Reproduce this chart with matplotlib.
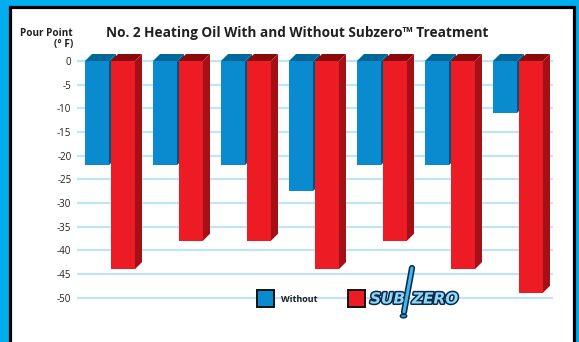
import matplotlib
matplotlib.use("Agg")
import matplotlib.pyplot as plt
from matplotlib.patches import Rectangle, Polygon, Circle
import matplotlib.patheffects as pe
import numpy as np

# ---- data ----
samples = ["1", "2", "3", "4", "5", "6", "7"]
without = [-22, -22, -22, -27.5, -22, -22, -11]
with_subzero = [-44, -38, -38, -44, -38, -44, -49]
ytick_values = [0, -5, -10, -15, -20, -25, -30, -35, -40, -45, -50]
ytick_labels = ["0", "-5", "-10", "-15", "-20", "-25", "-30", "-35", "-40", "-45", "-50"]
title = "No. 2 Heating Oil With and Without Subzero\u2122 Treatment"
ylabel = "Pour Point\n(\u00b0 F)"
legend_labels = ["Without", "SUBZERO"]

W, H = 579, 342
FONT = "Open Sans"
TEXT = "#231f20"
BLUE_F, BLUE_T, BLUE_S = "#0a8bd0", "#006899", "#00557f"
RED_F, RED_T, RED_S = "#ed1c24", "#8a0a0c", "#a50f16"
GRID = "#bfe4f6"

fig = plt.figure(figsize=(W / 100, H / 100), dpi=100, facecolor="#00aeef")

def fx(px):
    return px / W

def fy(py):
    return 1 - py / H

# white panel with black frame
fig.patches.append(Rectangle((fx(9.5), fy(400)), fx(564), (400 - 6.5) / H,
                             transform=fig.transFigure, facecolor="white",
                             edgecolor="black", linewidth=2.3, zorder=-5))

# axes
ax_left, ax_right, ax_top, ax_bot = 77, 553, 40, 320
ax = fig.add_axes([fx(ax_left), fy(ax_bot), (ax_right - ax_left) / W, (ax_bot - ax_top) / H])
ax.set_zorder(1)
ax.set_facecolor("none")
ppu_y = (297.5 - 61) / 50.0
ax.set_ylim(-(ax_bot - 61) / ppu_y, (61 - ax_top) / ppu_y)
pitch = 68.0
ax.set_xlim((ax_left - 110) / pitch, (ax_right - 110) / pitch)
for s in ax.spines.values():
    s.set_visible(False)
ax.set_xticks([])
ax.set_yticks(ytick_values)
ax.set_yticklabels(ytick_labels, fontfamily=FONT, fontsize=7, color=TEXT)
ax.tick_params(axis="y", length=0, pad=4)
ax.yaxis.grid(True, color=GRID, linewidth=1.6)
ax.set_axisbelow(True)

x = np.arange(len(samples))
bw = 24 / pitch
off = 13 / pitch
dx = 7 / pitch
dy = 7 / ppu_y

def bar3d(xc, val, cf, ct, cs, z):
    ax.bar([xc], [val], width=bw, color=cf, zorder=z, linewidth=0)
    l, r = xc - bw / 2, xc + bw / 2
    ax.add_patch(Polygon([(l, 0), (r, 0), (r + dx, dy), (l + dx, dy)],
                         closed=True, facecolor=ct, edgecolor="none", zorder=z))
    ax.add_patch(Polygon([(r, 0), (r + dx, dy), (r + dx, val + dy), (r, val)],
                         closed=True, facecolor=cs, edgecolor="none", zorder=z))

for i in range(len(samples)):
    bar3d(x[i] - off, without[i], BLUE_F, BLUE_T, BLUE_S, 3 + 2 * i)
    bar3d(x[i] + off, with_subzero[i], RED_F, RED_T, RED_S, 4 + 2 * i)

# title & y label
fig.text(fx(297), fy(33), title, ha="center", va="center", fontfamily=FONT,
         fontweight="bold", fontsize=9.8, color=TEXT)
fig.text(fx(73), fy(38.5), ylabel, ha="right", va="center", fontfamily=FONT,
         fontweight="bold", fontsize=7.2, color=TEXT, linespacing=1.0)

# legend
fig.patches.append(Rectangle((fx(257), fy(307)), fx(17), 17 / H, transform=fig.transFigure,
                             facecolor=BLUE_F, edgecolor="#111111", linewidth=1.4, zorder=5))
fig.text(fx(281), fy(299), legend_labels[0], ha="left", va="center", fontfamily=FONT,
         fontweight="bold", fontsize=6.5, color=TEXT)
fig.patches.append(Rectangle((fx(348), fy(307)), fx(17), 17 / H, transform=fig.transFigure,
                             facecolor=RED_F, edgecolor="#111111", linewidth=1.4, zorder=5))
logo_fx = [pe.withStroke(linewidth=2.2, foreground="#0b2a4a")]
fig.text(fx(370), fy(299), legend_labels[1][:3], ha="left", va="center", fontfamily="DejaVu Sans",
         fontweight="bold", fontstyle="italic", fontsize=11, color="#8fd8f8",
         path_effects=logo_fx, zorder=6)
fig.text(fx(412), fy(299), legend_labels[1][3:], ha="left", va="center", fontfamily="DejaVu Sans",
         fontweight="bold", fontstyle="italic", fontsize=11, color="#8fd8f8",
         path_effects=logo_fx, zorder=6)
# thermometer glyph in the logo
fig.lines.append(plt.Line2D([fx(412), fx(404)], [fy(268), fy(312)], transform=fig.transFigure,
                            color="#0b2a4a", linewidth=4.5, solid_capstyle="round", zorder=6))
fig.lines.append(plt.Line2D([fx(412), fx(404)], [fy(268), fy(312)], transform=fig.transFigure,
                            color="#3fb6ee", linewidth=2.2, solid_capstyle="round", zorder=7))
fig.patches.append(Circle((fx(403.5), fy(316)), 3.2 / W, transform=fig.transFigure,
                          facecolor="#1a9be0", edgecolor="#0b2a4a", linewidth=1, zorder=7))

fig.savefig("out.png", dpi=100, facecolor=fig.get_facecolor())
